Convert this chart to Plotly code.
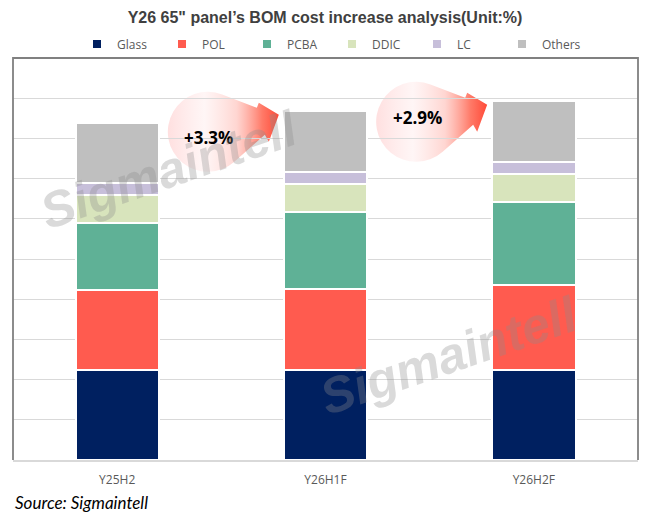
import base64
import plotly.graph_objects as go

# ---------------- data ----------------
categories = ["Y25H2", "Y26H1F", "Y26H2F"]
series_names = ["Glass", "POL", "PCBA", "DDIC", "LC", "Others"]
glass = [2.24, 2.24, 2.24]
pol = [2.00, 2.015, 2.115]
pcba = [1.66, 1.915, 2.065]
ddic = [0.70, 0.70, 0.70]
lc = [0.29, 0.30, 0.30]
others = [1.495, 1.505, 1.505]
growth_labels = ["+3.3%", "+2.9%"]

series_values = [glass, pol, pcba, ddic, lc, others]
colors = ["#002060", "#FF5B4F", "#5FB196", "#D8E4BC", "#C7BFDA", "#BFBFBF"]

# ---------------- geometry helpers ----------------
W, H = 650, 522
ML, MR, MT, MB = 13, 12, 58, 62
PLOT_W = W - ML - MR
PLOT_H = H - MT - MB
Y_MAX = 10
PX_X = PLOT_W / len(categories)   # px per category unit
PX_Y = PLOT_H / Y_MAX              # px per value unit
BAR_WIDTH = 0.4

x_pos = list(range(len(categories)))
totals = [sum(v[i] for v in series_values) for i in x_pos]

fig = go.Figure()
for name, vals, col in zip(series_names, series_values, colors):
    fig.add_trace(go.Bar(
        x=x_pos, y=vals, name=name, width=BAR_WIDTH,
        marker=dict(color=col, line=dict(color="white", width=2)),
        showlegend=False, hoverinfo="skip"))
for name, col in zip(series_names, colors):
    fig.add_trace(go.Scatter(
        x=[None], y=[None], mode="markers", name=name,
        marker=dict(symbol="square", size=8, color=col), showlegend=True))

# ---------------- growth bubbles (svg images) ----------------
svg = '''<svg xmlns="http://www.w3.org/2000/svg" width="120" height="88" viewBox="0 0 120 88">
<defs><linearGradient id="g" x1="0" y1="0" x2="1" y2="0">
<stop offset="0" stop-color="#FFD2D2" stop-opacity="0.7"/>
<stop offset="0.33" stop-color="#FFEEEE" stop-opacity="0.55"/>
<stop offset="0.62" stop-color="#FFC8C2" stop-opacity="0.75"/>
<stop offset="0.85" stop-color="#FF7A68" stop-opacity="1"/>
<stop offset="1" stop-color="#FF4A38" stop-opacity="1"/>
</linearGradient></defs>
<path d="M59.3,6.7 L94,20 L96,15 L116,27 L106,54 L102,47 L71.5,74 A40,40 0 1 1 59.3,6.7 Z" fill="url(#g)"/>
</svg>'''
uri = "data:image/svg+xml;base64," + base64.b64encode(svg.encode()).decode()

label_yshift = [-5, 5]
images = []
annotations = []
for k, label in enumerate(growth_labels):
    nxt = k + 1
    bar_left = x_pos[nxt] - BAR_WIDTH / 2
    img_left = bar_left - 121 / PX_X
    img_top = totals[nxt] + 23.5 / PX_Y
    images.append(dict(source=uri, xref="x", yref="y", x=img_left, y=img_top,
                       sizex=120 / PX_X, sizey=88 / PX_Y, xanchor="left", yanchor="top",
                       sizing="stretch", layer="below"))
    annotations.append(dict(x=img_left + 46 / PX_X, y=img_top - 45 / PX_Y, xref="x", yref="y",
                            text=label, showarrow=False, yshift=label_yshift[k],
                            font=dict(family="Open Sans", size=17, color="black", weight="bold")))

# watermarks
for (wx, wy) in [(0.2496, 0.722), (0.697, 0.259)]:
    annotations.append(dict(x=wx, y=wy, xref="paper", yref="paper", text="Sigmaintell",
                            xanchor="center", yanchor="middle",
                            showarrow=False, textangle=-19,
                            font=dict(family="Liberation Sans", size=50,
                                      color="rgba(140,140,140,0.32)", weight="bold", style="italic")))

annotations.append(dict(x=0, y=-(503 - (MT + PLOT_H)) / PLOT_H, xref="paper", yref="paper",
                        xanchor="left", yanchor="middle", text="Source: Sigmaintell", showarrow=False,
                        font=dict(family="Lato", size=17, color="black", style="italic")))

fig.update_layout(
    width=W, height=H,
    margin=dict(l=ML, r=MR, t=MT, b=MB),
    paper_bgcolor="white", plot_bgcolor="white",
    barmode="stack",
    title=dict(text="Y26 65\" panel\u2019s BOM cost increase analysis(Unit:%)",
               x=0.5, xanchor="center", y=1 - 17 / H, yanchor="middle",
               font=dict(family="Liberation Sans", size=16, color="#404040", weight="bold")),
    legend=dict(orientation="h", x=(77 - ML) / PLOT_W, xanchor="left",
                y=1 + (MT - 44) / PLOT_H, yanchor="middle", traceorder="normal",
                entrywidth=40, entrywidthmode="pixels",
                font=dict(family="Open Sans", size=12, color="#595959"),
                bgcolor="rgba(0,0,0,0)"),
    xaxis=dict(tickmode="array", tickvals=x_pos, ticktext=categories,
               range=[-0.5, len(categories) - 0.5], showgrid=False, zeroline=False,
               showline=True, linecolor="#D9D9D9", linewidth=1.5,
               ticks="outside", ticklen=8, tickcolor="rgba(0,0,0,0)",
               tickfont=dict(family="Open Sans", size=12, color="#595959"), fixedrange=True),
    yaxis=dict(range=[0, Y_MAX], dtick=1, showticklabels=False, showgrid=True,
               gridcolor="#D9D9D9", gridwidth=1.3, zeroline=False, fixedrange=True),
    images=images,
    annotations=annotations,
    shapes=[dict(type="path", xref="paper", yref="paper", path="M0,0 L0,1 L1,1 L1,0",
                 line=dict(color="#808080", width=1.8), layer="above")],
    showlegend=True,
)

fig.write_html("out.html")
